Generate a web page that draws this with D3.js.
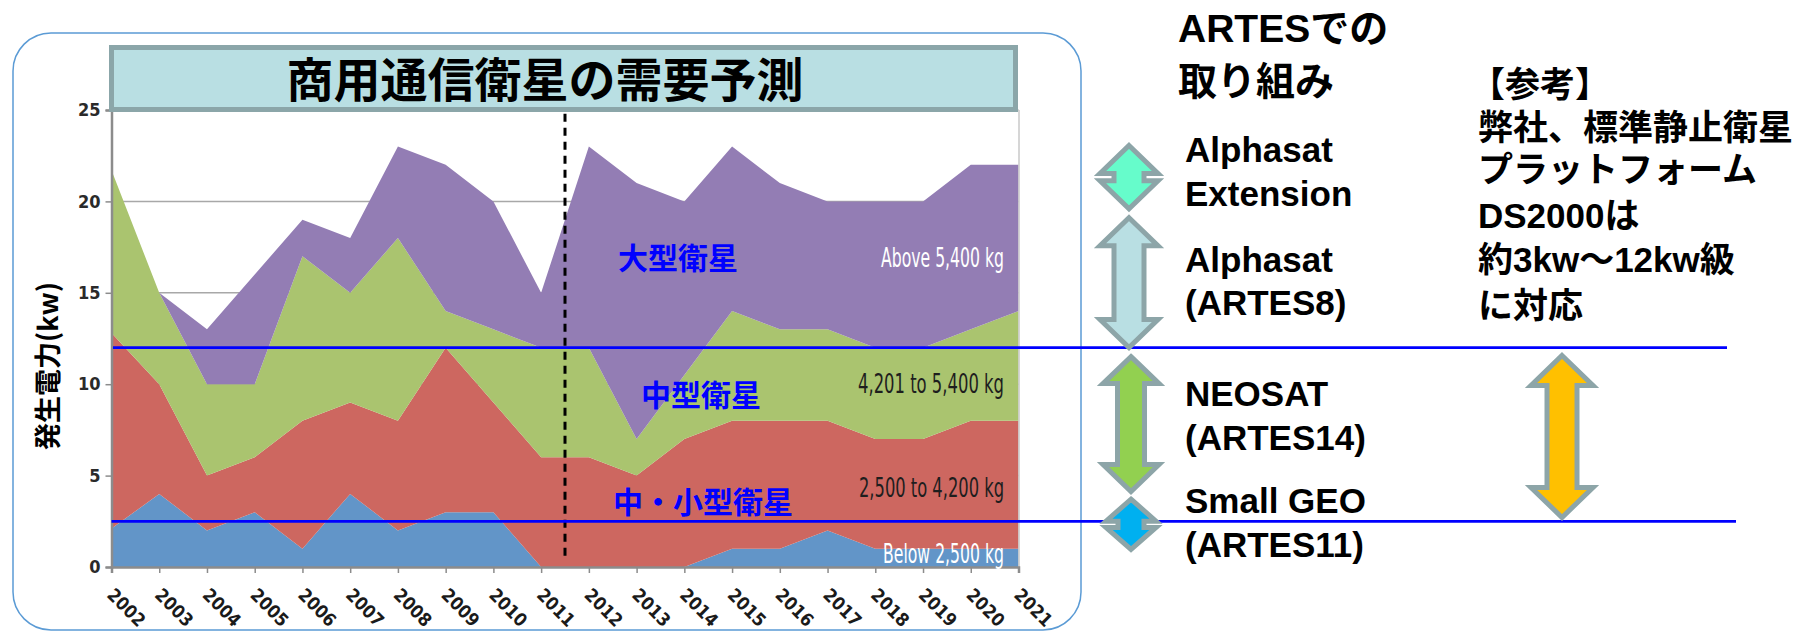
<!DOCTYPE html>
<html>
<head>
<meta charset="utf-8">
<script src="https://cdn.jsdelivr.net/npm/d3@7"></script>
<style>
body { margin: 0; background: #fff; }
svg { display: block; }
</style>
</head>
<body>
<div id="chart"></div>
<script>
// stacked segments, kW per year
var years = [2002, 2003, 2004, 2005, 2006, 2007, 2008, 2009, 2010, 2011,
             2012, 2013, 2014, 2015, 2016, 2017, 2018, 2019, 2020, 2021]
var below2500 = [2.1, 4, 2, 3, 1, 4, 2, 3, 3, 0, 0, 0, 0, 1, 1, 2, 1, 1, 1, 1]
var from2500to4200 = [10.7, 6, 3, 3, 7, 5, 6, 9, 6, 6, 6, 5, 7, 7, 7, 6, 6, 6, 7, 7]
var from4201to5400 = [8.9, 5, 5, 4, 9, 6, 10, 2, 4, 6, 6, 2, 3.5, 6, 5, 5, 5, 5, 5, 6]
var above5400 = [0, 0, 3, 6, 2, 3, 5, 8, 7, 3, 11, 14, 9.5, 9, 8, 7, 8, 8, 9, 8]
var seriesNames = ["Below 2,500 kg", "2,500 to 4,200 kg", "4,201 to 5,400 kg", "Above 5,400 kg"]
var yTicks = [0, 5, 10, 15, 20, 25]

var classLimits = [12, 2.5]
var classNames = ["大型衛星", "中型衛星", "中・小型衛星"]

var artesNames = [["Alphasat", "Extension"], ["Alphasat", "(ARTES8)"], ["NEOSAT", "(ARTES14)"], ["Small GEO", "(ARTES11)"]]
var artesRanges = [[19.4, 23.25], [11.82, 19.3], [3.94, 11.7], [0.77, 3.9]]
var ds2000Range = [2.52, 11.76]
var ds2000Lines = ["【参考】", "弊社、標準静止衛星", "プラットフォーム", "DS2000は", "約3kw～12kw級", "に対応"]

var width = 1818
var height = 633
var colors = ["#6295c8", "#cd6760", "#aac46f", "#937db4"]
var cjk = "'Noto Sans CJK JP', 'Noto Sans', sans-serif"
var latin = "'Liberation Sans', Arial, 'Noto Sans CJK JP', sans-serif"
var narrow = "'Liberation Sans Narrow', 'DejaVu Sans Condensed', 'Roboto', sans-serif"

var svg = d3.select("#chart").append("svg")
    .attr("width", width)
    .attr("height", height)

// rounded frame around the chart
svg.append("rect")
    .attr("x", 13).attr("y", 33)
    .attr("width", 1068).attr("height", 597)
    .attr("rx", 38).attr("ry", 38)
    .attr("fill", "none")
    .attr("stroke", "#5b9bd5")
    .attr("stroke-width", 1.5)

var x = d3.scaleLinear().domain([2002, 2021]).range([111.5, 1018.5])
var y = d3.scaleLinear().domain([0, 25]).range([567, 110])

// grid
svg.append("g").selectAll("line")
    .data(yTicks.filter(d => d > 0))
    .enter().append("line")
    .attr("x1", x(2002)).attr("x2", x(2021))
    .attr("y1", d => y(d)).attr("y2", d => y(d))
    .attr("stroke", "#a8a8a8")
    .attr("stroke-width", 1.5)

var table = years.map((yr, i) => ({
    year: yr,
    s0: below2500[i], s1: from2500to4200[i], s2: from4201to5400[i], s3: above5400[i]
}))
var stacked = d3.stack().keys(["s0", "s1", "s2", "s3"])(table)

var area = d3.area()
    .x(d => x(d.data.year))
    .y0(d => y(d[0]))
    .y1(d => y(d[1]))

svg.append("g").selectAll("path")
    .data(stacked)
    .enter().append("path")
    .attr("d", area)
    .attr("fill", (d, i) => colors[i])

// right border of the plot
svg.append("line")
    .attr("x1", x(2021) + 0.5).attr("x2", x(2021) + 0.5)
    .attr("y1", y(25)).attr("y2", y(0))
    .attr("stroke", "#c8c8c8").attr("stroke-width", 1.5)

// axes
var yAxis = svg.append("g")
    .attr("transform", `translate(${x(2002)},0)`)
    .call(d3.axisLeft(y).tickValues(yTicks).tickSize(6).tickPadding(5))
yAxis.select(".domain").attr("stroke", "#8c8c8c").attr("stroke-width", 2.5)
yAxis.selectAll(".tick line").attr("stroke", "#8c8c8c").attr("stroke-width", 1.5)
yAxis.selectAll("text")
    .attr("font-family", narrow)
    .attr("font-weight", "bold")
    .attr("font-size", 18)
    .attr("fill", "#2a2a2a")

var xAxis = svg.append("g")
    .attr("transform", `translate(0,${y(0)})`)
    .call(d3.axisBottom(x).tickValues(years).tickFormat(d3.format("d")).tickSize(6))
xAxis.select(".domain").attr("stroke", "#8c8c8c").attr("stroke-width", 2.5)
xAxis.selectAll(".tick line").attr("stroke", "#8c8c8c").attr("stroke-width", 1.5)
xAxis.selectAll("text")
    .attr("font-family", narrow)
    .attr("font-weight", "bold")
    .attr("font-size", 18)
    .attr("fill", "#1a1a1a")
    .attr("text-anchor", "start")
    .attr("dy", 0)
    .attr("y", 0)
    .attr("transform", "translate(-6,29) rotate(45)")

svg.append("text")
    .attr("transform", `translate(58,366) rotate(-90)`)
    .attr("text-anchor", "middle")
    .attr("font-family", cjk)
    .attr("font-weight", "bold")
    .attr("font-size", 27)
    .text("発生電力(kw)")

// title box
svg.append("rect")
    .attr("x", 111.5).attr("y", 47.5)
    .attr("width", 904).attr("height", 62)
    .attr("fill", "#b9dfe3")
    .attr("stroke", "#8ba6a9")
    .attr("stroke-width", 5)
svg.append("text")
    .attr("x", 545).attr("y", 97)
    .attr("text-anchor", "middle")
    .attr("font-family", cjk)
    .attr("font-weight", "bold")
    .attr("font-size", 47)
    .attr("fill", "#000")
    .text("商用通信衛星の需要予測")

// 2011 / 2012 boundary
svg.append("line")
    .attr("x1", x(2011.5)).attr("x2", x(2011.5))
    .attr("y1", y(24.8)).attr("y2", y(0.3))
    .attr("stroke", "#000")
    .attr("stroke-width", 3)
    .attr("stroke-dasharray", "8,6")

// series labels
var labelAt = [0.2, 3.85, 9.5, 16.4]
var labelWidth = [121, 145, 146, 123]
svg.append("g").selectAll("text")
    .data(seriesNames)
    .enter().append("text")
    .attr("x", 1004)
    .attr("y", (d, i) => y(labelAt[i]))
    .attr("text-anchor", "end")
    .attr("font-family", narrow)
    .attr("font-size", 26)
    .attr("fill", (d, i) => (i == 0 || i == 3) ? "#fff" : "#1e1e1e")
    .attr("textLength", (d, i) => labelWidth[i])
    .attr("lengthAdjust", "spacingAndGlyphs")
    .text(d => d)

// class limit lines
var limitEnd = [1727, 1736]
svg.append("g").selectAll("line")
    .data(classLimits)
    .enter().append("line")
    .attr("x1", (d, i) => i == 0 ? 113 : x(2002))
    .attr("x2", (d, i) => limitEnd[i])
    .attr("y1", d => y(d)).attr("y2", d => y(d))
    .attr("stroke", "#0000ff")
    .attr("stroke-width", 2.8)

var classPos = [[618, 16.3], [641, 8.8], [613, 2.95]]
svg.append("g").selectAll("text")
    .data(classNames)
    .enter().append("text")
    .attr("x", (d, i) => classPos[i][0])
    .attr("y", (d, i) => y(classPos[i][1]))
    .attr("font-family", cjk)
    .attr("font-weight", "bold")
    .attr("font-size", 30)
    .attr("fill", "#0000ff")
    .text(d => d)

// double arrows
function arrowPath(cx, top, bot, headW, headH, shaftW) {
    var p = d3.path()
    p.moveTo(cx, top)
    p.lineTo(cx + headW / 2, top + headH)
    p.lineTo(cx + shaftW / 2, top + headH)
    p.lineTo(cx + shaftW / 2, bot - headH)
    p.lineTo(cx + headW / 2, bot - headH)
    p.lineTo(cx, bot)
    p.lineTo(cx - headW / 2, bot - headH)
    p.lineTo(cx - shaftW / 2, bot - headH)
    p.lineTo(cx - shaftW / 2, top + headH)
    p.lineTo(cx - headW / 2, top + headH)
    p.closePath()
    return p.toString()
}

var arrowFill = ["#66fccb", "#b9dfe3", "#92d050", "#00b0f0"]
var arrowGeom = [
    {cx: 1129, headW: 58, headH: 28, shaftW: 30},
    {cx: 1129, headW: 58, headH: 28, shaftW: 30},
    {cx: 1131, headW: 56, headH: 27, shaftW: 27},
    {cx: 1131, headW: 50, headH: 22, shaftW: 26}
]
svg.append("g").selectAll("path")
    .data(artesRanges)
    .enter().append("path")
    .attr("d", (d, i) => arrowPath(arrowGeom[i].cx, y(d[1]) + 3.5, y(d[0]) - 3.5,
        arrowGeom[i].headW, arrowGeom[i].headH, arrowGeom[i].shaftW))
    .attr("fill", (d, i) => arrowFill[i])
    .attr("stroke", "#8da5a8")
    .attr("stroke-width", 5)

svg.append("path")
    .attr("d", arrowPath(1562, y(ds2000Range[1]) + 3.5, y(ds2000Range[0]) - 3.5, 62, 30, 30))
    .attr("fill", "#ffc000")
    .attr("stroke", "#8da5a8")
    .attr("stroke-width", 5)

// right-hand texts
var head = svg.append("text")
    .attr("font-family", latin)
    .attr("font-weight", "bold")
    .attr("font-size", 39)
head.append("tspan").attr("x", 1178).attr("y", 42).text("ARTESでの")
head.append("tspan").attr("x", 1178).attr("y", 95).text("取り組み")

var artesY = [[162, 206], [272, 315], [406, 450], [513, 557]]
artesNames.forEach(function(lines, i) {
    var t = svg.append("text")
        .attr("font-family", latin)
        .attr("font-weight", "bold")
        .attr("font-size", 35)
    lines.forEach(function(s, j) {
        t.append("tspan").attr("x", 1185).attr("y", artesY[i][j]).text(s)
    })
})

var refY = [97, 140, 182, 228, 272, 318]
svg.append("g").selectAll("text")
    .data(ds2000Lines)
    .enter().append("text")
    .attr("x", (d, i) => i == 0 ? 1470 : 1478)
    .attr("y", (d, i) => refY[i])
    .attr("font-family", latin)
    .attr("font-weight", "bold")
    .attr("font-size", 35)
    .text(d => d)
</script>
</body>
</html>
